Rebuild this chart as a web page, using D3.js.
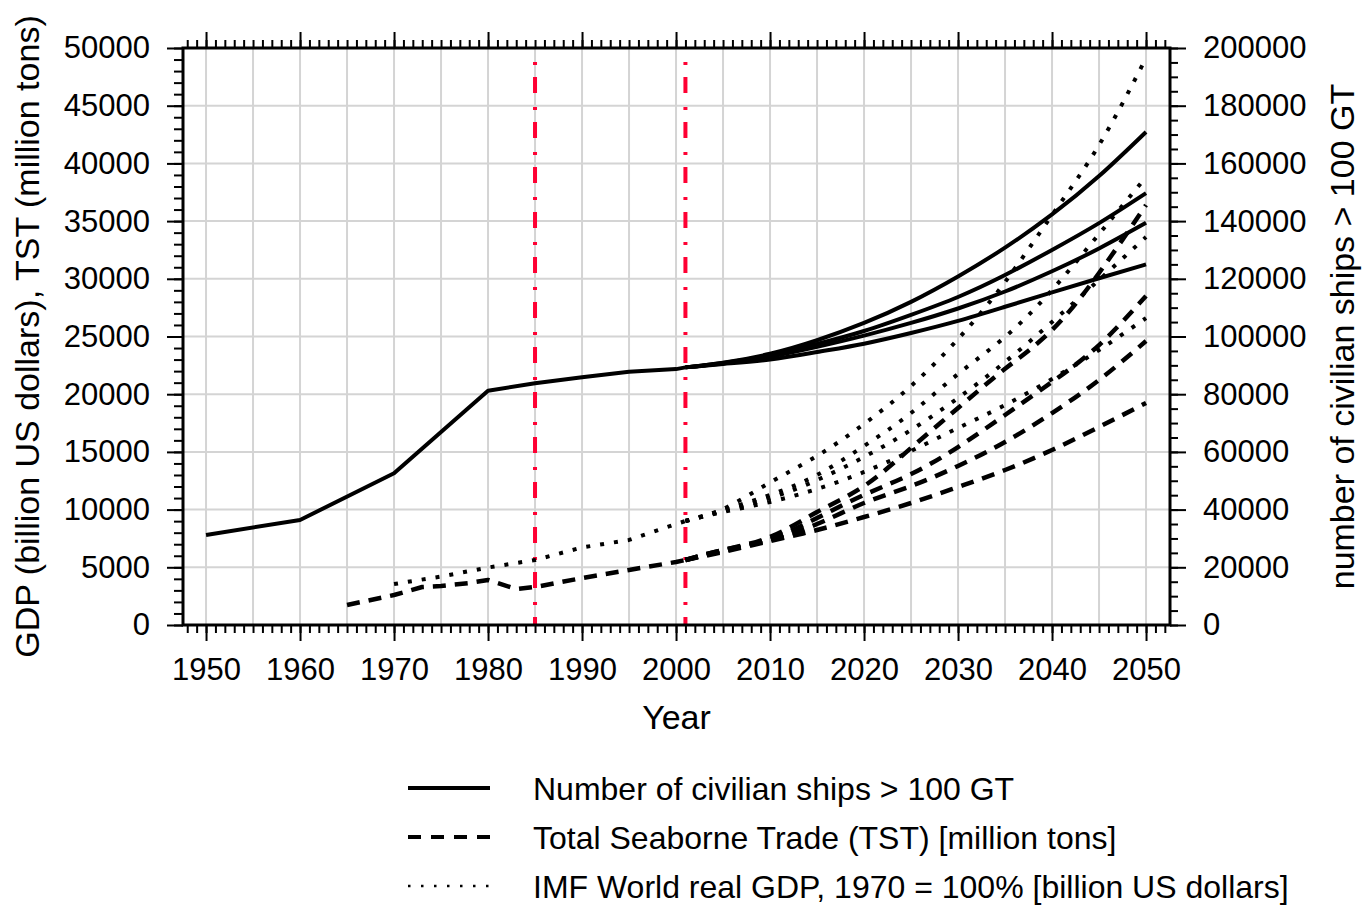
<!DOCTYPE html>
<html>
<head>
<meta charset="utf-8">
<script src="https://cdn.jsdelivr.net/npm/d3@7"></script>
<style>
  body { margin: 0; background: #fff; }
  svg text { font-family: "Liberation Sans", Arial, sans-serif; }
</style>
</head>
<body>
<div class="chart"></div>
<script>
const width = 1363;
const height = 910;
const frame = { left: 183, right: 1170, top: 48, bottom: 625 };

// history (single curves)
const shipYears = [1950, 1960, 1970, 1980, 1985, 1990, 1995, 2000, 2001];
const shipHist = [31200, 36400, 52600, 81200, 83800, 85900, 87800, 88700, 89300];
const tstYears = [1965, 1970, 1973, 1975, 1978, 1980, 1983, 1985, 1990, 1995, 2000, 2001];
const tstHist = [1730, 2600, 3290, 3380, 3640, 3900, 3120, 3290, 4070, 4770, 5460, 5630];
const gdpYears = [1970, 1975, 1980, 1985, 1990, 1995, 2000, 2001];
const gdpHist = [3550, 4200, 4980, 5630, 6720, 7370, 8750, 9010];

// scenarios 2001-2050
const scenYears = [2001, 2005, 2010, 2015, 2020, 2025, 2030, 2035, 2040, 2045, 2050];
const shipScen = [
  [89300, 90900, 94000, 98700, 104700, 112000, 120800, 130800, 142300, 155600, 170900],
  [89300, 90800, 93600, 97400, 101900, 107500, 113700, 121300, 130000, 139300, 149700],
  [89300, 90600, 93000, 96400, 100300, 104700, 109700, 115600, 122600, 130500, 139400],
  [89300, 90500, 92000, 94600, 97500, 101200, 105400, 110300, 115300, 120200, 125000],
];
const tstScen = [
  [5630, 6330, 7280, 8230, 9360, 10570, 11960, 13430, 15170, 17160, 19240],
  [5630, 6410, 7370, 8750, 10570, 12040, 13780, 15860, 18370, 21230, 24610],
  [5630, 6500, 7450, 9270, 11270, 13080, 15420, 18200, 21060, 24260, 28510],
  [5630, 6500, 7630, 9790, 12040, 15340, 18800, 22200, 25560, 30500, 36400],
];
const gdpScen = [
  [9010, 10050, 12350, 14650, 17420, 20710, 24780, 29720, 35530, 41590, 49130],
  [9010, 9970, 11270, 13000, 15510, 18370, 21750, 24960, 29030, 33880, 38820],
  [9010, 9880, 11000, 12560, 14560, 16900, 19670, 22790, 26260, 29900, 33620],
  [9010, 9790, 10660, 11790, 13260, 15080, 17070, 19060, 21320, 23830, 26600],
];
const markYears = [1985, 2001];

const legendLabels = [
  'Number of civilian ships > 100 GT',
  'Total Seaborne Trade (TST) [million tons]',
  'IMF World real GDP, 1970 = 100% [billion US dollars]',
];

const styles = {
  solid: { dash: null, width: 4 },
  dashed: { dash: '13,9', width: 4.5 },
  dotted: { dash: '4,10', width: 4 },
};

const xScale = d3.scaleLinear()
  .domain([1947.55, 2052.55])
  .range([frame.left, frame.right]);

const yLeft = d3.scaleLinear()
  .domain([0, 50000])
  .range([frame.bottom, frame.top]);

const yRight = d3.scaleLinear()
  .domain([0, 200000])
  .range([frame.bottom, frame.top]);

const svg = d3.select('.chart').append('svg')
  .attr('width', width)
  .attr('height', height);

// grid
const grid = svg.append('g').attr('class', 'grid')
  .attr('stroke', '#d4d4d4')
  .attr('stroke-width', 2);

grid.selectAll('.vg')
  .data(d3.range(1950, 2051, 5))
  .join('line')
  .attr('x1', d => xScale(d)).attr('x2', d => xScale(d))
  .attr('y1', frame.top).attr('y2', frame.bottom);

grid.selectAll('.hg')
  .data(d3.range(5000, 50000, 5000))
  .join('line')
  .attr('y1', d => yLeft(d)).attr('y2', d => yLeft(d))
  .attr('x1', frame.left).attr('x2', frame.right);

// red marker lines
svg.append('g').selectAll('line')
  .data(markYears)
  .join('line')
  .attr('x1', d => xScale(d)).attr('x2', d => xScale(d))
  .attr('y1', yLeft(50000)).attr('y2', yLeft(0))
  .attr('stroke', '#ff0033')
  .attr('stroke-width', 4)
  .attr('stroke-dasharray', '3,12,16,14')
  .attr('stroke-dashoffset', 31);

// data lines
function drawLine(years, values, scale, style, curve) {
  const line = d3.line()
    .x((d, i) => xScale(years[i]))
    .y(d => scale(d))
    .curve(curve);
  svg.append('path')
    .datum(values)
    .attr('d', line)
    .attr('fill', 'none')
    .attr('stroke', '#000')
    .attr('stroke-width', style.width)
    .attr('stroke-dasharray', style.dash)
    .attr('stroke-linejoin', 'round');
}

drawLine(gdpYears, gdpHist, yLeft, styles.dotted, d3.curveLinear);
gdpScen.forEach(s => drawLine(scenYears, s, yLeft, styles.dotted, d3.curveNatural));
drawLine(tstYears, tstHist, yLeft, styles.dashed, d3.curveLinear);
tstScen.forEach(s => drawLine(scenYears, s, yLeft, styles.dashed, d3.curveNatural));
drawLine(shipYears, shipHist, yRight, styles.solid, d3.curveLinear);
shipScen.forEach(s => drawLine(scenYears, s, yRight, styles.solid, d3.curveNatural));

// axes
const tickFont = '31px';
function styleAxis(g) {
  g.select('.domain').remove();
  g.selectAll('line').attr('stroke', '#000').attr('stroke-width', 2);
  g.selectAll('text').style('font-size', tickFont).attr('fill', '#000');
}

const minorYears = d3.range(1948, 2053, 1);
const majorYears = d3.range(1950, 2051, 10);

svg.append('g')
  .attr('transform', `translate(0,${frame.bottom})`)
  .call(d3.axisBottom(xScale).tickValues(minorYears).tickSize(8).tickFormat(''))
  .call(styleAxis);
svg.append('g')
  .attr('transform', `translate(0,${frame.bottom})`)
  .call(d3.axisBottom(xScale).tickValues(majorYears).tickSize(16).tickPadding(17).tickFormat(d3.format('d')))
  .call(styleAxis);

svg.append('g')
  .attr('transform', `translate(0,${frame.top})`)
  .call(d3.axisTop(xScale).tickValues(minorYears).tickSize(8).tickFormat(''))
  .call(styleAxis);
svg.append('g')
  .attr('transform', `translate(0,${frame.top})`)
  .call(d3.axisTop(xScale).tickValues(majorYears).tickSize(16).tickFormat(''))
  .call(styleAxis);

svg.append('g')
  .attr('transform', `translate(${frame.left},0)`)
  .call(d3.axisLeft(yLeft).tickValues(d3.range(0, 50001, 1000)).tickSize(9).tickFormat(''))
  .call(styleAxis);
svg.append('g')
  .attr('transform', `translate(${frame.left},0)`)
  .call(d3.axisLeft(yLeft).tickValues(d3.range(0, 50001, 5000)).tickSize(16).tickPadding(17).tickFormat(d3.format('d')))
  .call(styleAxis);

svg.append('g')
  .attr('transform', `translate(${frame.right},0)`)
  .call(d3.axisRight(yRight).tickValues(d3.range(0, 200001, 5000)).tickSize(8).tickFormat(''))
  .call(styleAxis);
svg.append('g')
  .attr('transform', `translate(${frame.right},0)`)
  .call(d3.axisRight(yRight).tickValues(d3.range(0, 200001, 20000)).tickSize(16).tickPadding(17).tickFormat(d3.format('d')))
  .call(styleAxis);

// frame
svg.append('rect')
  .attr('x', frame.left).attr('y', frame.top)
  .attr('width', frame.right - frame.left)
  .attr('height', frame.bottom - frame.top)
  .attr('fill', 'none')
  .attr('stroke', '#000')
  .attr('stroke-width', 3);

// axis titles
const titleFont = '34px';
svg.append('text')
  .attr('x', (frame.left + frame.right) / 2)
  .attr('y', 729)
  .attr('text-anchor', 'middle')
  .style('font-size', titleFont)
  .text('Year');

svg.append('text')
  .attr('transform', `translate(27,${(frame.top + frame.bottom) / 2}) rotate(-90)`)
  .attr('text-anchor', 'middle')
  .attr('dy', '0.35em')
  .style('font-size', titleFont)
  .text('GDP (billion US dollars), TST (million tons)');

svg.append('text')
  .attr('transform', `translate(1342,${(frame.top + frame.bottom) / 2}) rotate(-90)`)
  .attr('text-anchor', 'middle')
  .attr('dy', '0.35em')
  .style('font-size', titleFont)
  .text('number of civilian ships > 100 GT');

// legend
const legendStyles = [
  { dash: null, width: 4 },
  { dash: '13,10', width: 4 },
  { dash: '2.5,10.5', width: 2.5 },
];
const legend = svg.append('g').attr('class', 'legend');
const row = legend.selectAll('g')
  .data(legendLabels)
  .join('g')
  .attr('transform', (d, i) => `translate(0,${788 + i * 49})`);

row.append('line')
  .attr('x1', 408).attr('x2', 490)
  .attr('stroke', '#000')
  .attr('stroke-width', (d, i) => legendStyles[i].width)
  .attr('stroke-dasharray', (d, i) => legendStyles[i].dash);

row.append('text')
  .attr('x', 533)
  .attr('y', 12)
  .style('font-size', '32px')
  .text(d => d);
</script>
</body>
</html>
